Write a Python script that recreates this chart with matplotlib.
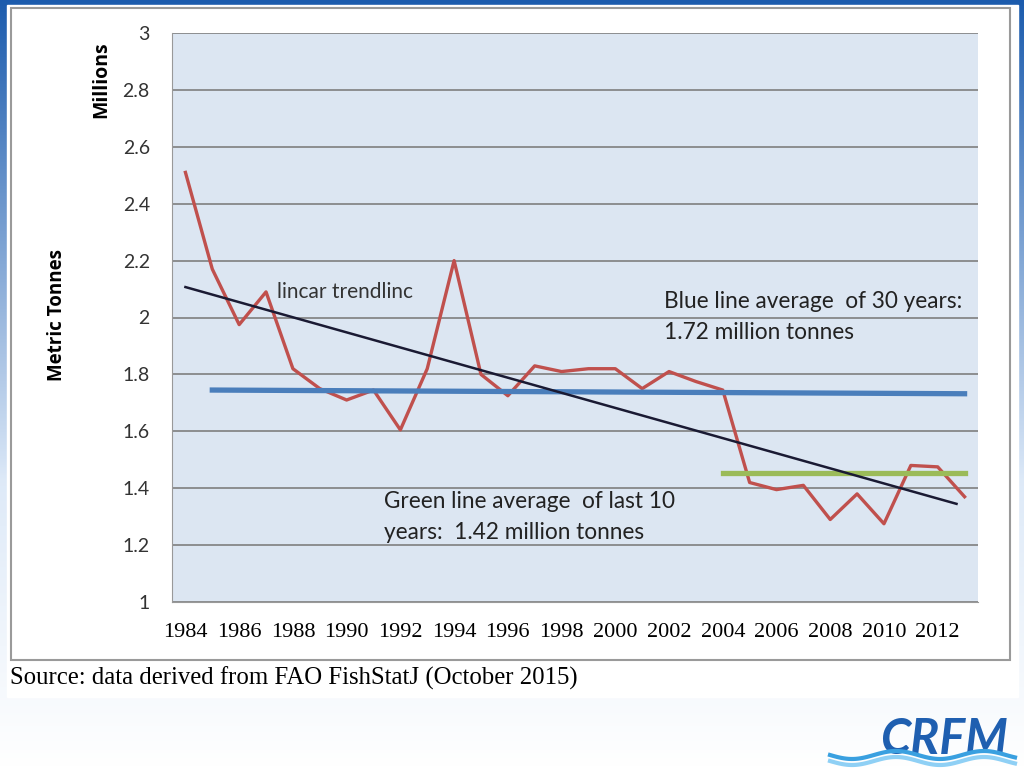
import matplotlib.pyplot as plt
import numpy as np
from matplotlib.patches import Rectangle

years = list(range(1984, 2014))
catch = [2.51, 2.17, 1.975, 2.09, 1.82, 1.75, 1.71, 1.745, 1.605, 1.82,
         2.20, 1.80, 1.725, 1.83, 1.81, 1.82, 1.82, 1.75, 1.81, 1.775,
         1.745, 1.42, 1.395, 1.41, 1.29, 1.38, 1.275, 1.48, 1.475, 1.37]

# hand drawn lines on the original slide
trend_x = [1984, 2012.7]
trend_y = [2.107, 1.345]
blue_x = [1985, 2013]
blue_y = [1.745, 1.732]
green_x = [2004, 2013]
green_y = [1.453, 1.453]

xticks = list(range(1984, 2013, 2))
yticks = [1, 1.2, 1.4, 1.6, 1.8, 2, 2.2, 2.4, 2.6, 2.8, 3]

fig = plt.figure(figsize=(10.24, 7.68), dpi=100)

# slide background gradient
bg = fig.add_axes([0, 0, 1, 1], zorder=-10)
grad = np.linspace(0, 1, 256).reshape(-1, 1)
top = np.array([0.11, 0.36, 0.68])
bot = np.array([1.0, 1.0, 1.0])
mix = np.clip(grad * 1.6, 0, 1)
img = top * (1 - mix[..., None]) + np.array([0.86, 0.91, 0.97]) * mix[..., None]
mix2 = np.clip((grad - 0.6) / 0.4, 0, 1)
img = img * (1 - mix2[..., None]) + bot * mix2[..., None]
bg.imshow(img, aspect='auto', extent=[0, 1, 0, 1], origin='upper')
bg.set_xlim(0, 1)
bg.set_ylim(0, 1)
bg.axis('off')
# white panel and chart border
bg.add_patch(Rectangle((7/1024, 1 - 697/768), 1011/1024, 692/768, color='white', zorder=2))
bg.add_patch(Rectangle((11/1024, 1 - 660/768), 999/1024, 652/768, facecolor='white',
                       edgecolor='#9a9a9a', lw=1.5, zorder=3))
bg.text(10/1024, 1 - 678/768, "Source: data derived from FAO FishStatJ (October 2015)",
        family='Liberation Serif', fontsize=17.8, va='center', ha='left', zorder=4)
# logo
bg.text(1008/1024, 1 - 740/768, "CRFM", family='Lato', fontsize=35, fontweight='bold',
        fontstyle='italic', color='#1f5fb0', ha='right', va='center', zorder=4)
wx = np.linspace(830, 1015, 80)
for off, c in [(0, '#3aa0e0'), (6, '#8fd0f5')]:
    wy = 755 + off + 4 * np.sin((wx - 830) / 14)
    bg.plot(wx / 1024, 1 - wy / 768, color=c, lw=3, zorder=5)

ax = fig.add_axes([172/1024, 1 - 602/768, 806/1024, 569/768])
ax.set_facecolor('#dce6f2')
ax.set_xlim(1983.5, 2013.5)
ax.set_ylim(1, 3)
ax.set_yticks(yticks)
ax.set_yticklabels(['%g' % v for v in yticks])
ax.set_xticks(xticks)
ax.set_xticklabels([str(v) for v in xticks], family='Liberation Serif', fontsize=16)
for lab in ax.get_yticklabels():
    lab.set_family('Lato')
    lab.set_fontsize(14)
    lab.set_color('#333333')
ax.tick_params(length=0)
ax.tick_params(axis='y', pad=16)
ax.tick_params(axis='x', pad=15)
ax.grid(axis='y', color='#7f7f7f', lw=1.2)
ax.set_axisbelow(True)
for s in ['top', 'right']:
    ax.spines[s].set_visible(False)
ax.spines['left'].set_color('#999999')
ax.spines['bottom'].set_color('#999999')

ax.plot(years, catch, color='#c0504d', lw=2.4, zorder=3)
ax.plot(blue_x, blue_y, color='#4a7ebb', lw=3.8, zorder=4)
ax.plot(green_x, green_y, color='#9bbb59', lw=3.8, zorder=4)
ax.plot(trend_x, trend_y, color='#1a1a33', lw=1.8, zorder=5)

ax.text(1987.4, 2.07, "lincar trendlinc", family='Lato', fontsize=15, color='#333333')
ax.text(2001.8, 1.925, "Blue line average  of 30 years:\n1.72 million tonnes", family='Lato',
        fontsize=16.3, color='#222222', linespacing=1.6)
ax.text(1991.4, 1.22, "Green line average  of last 10\nyears:  1.42 million tonnes", family='Lato',
        fontsize=16.3, color='#222222', linespacing=1.6)

fig.text(101/1024, 1 - 80/768, "Millions", rotation=90, family='Open Sans', fontweight='bold',
         fontsize=14, ha='center', va='center')
fig.text(57/1024, 1 - 315/768, "Metric Tonnes", rotation=90, family='Open Sans', fontweight='bold',
         fontsize=13.5, ha='center', va='center')

fig.savefig('out.png', dpi=100)
